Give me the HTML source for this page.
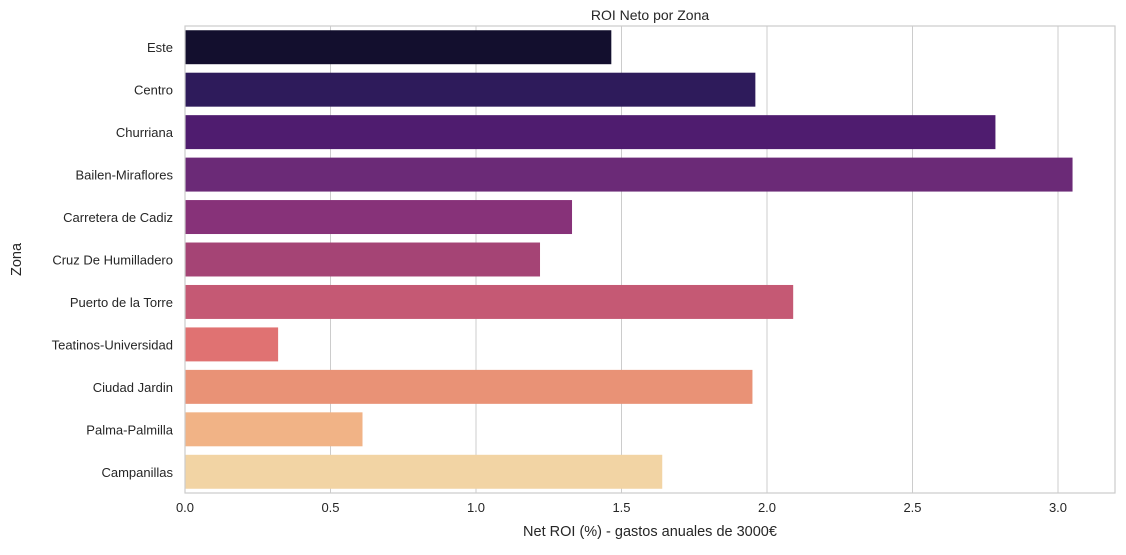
<!DOCTYPE html>
<html><head><meta charset="utf-8"><style>
body{margin:0;background:#fff;font-family:"Liberation Sans","DejaVu Sans",sans-serif;}
svg text{font-family:"Liberation Sans","DejaVu Sans",sans-serif;fill:#262626;}
</style></head><body>
<svg id="chart" width="1126" height="550" xmlns="http://www.w3.org/2000/svg"></svg>
<script>
const categories=["Este","Centro","Churriana","Bailen-Miraflores","Carretera de Cadiz","Cruz De Humilladero","Puerto de la Torre","Teatinos-Universidad","Ciudad Jardin","Palma-Palmilla","Campanillas"];
const values=[1.465,1.96,2.785,3.05,1.33,1.22,2.09,0.32,1.95,0.61,1.64];
const colors=["#130f2e","#2e1b5b","#4f1c6f","#6b2a77","#873279","#a54475","#c55974","#e07272","#e99276","#f1b386","#f2d4a4"];
const xTicks=[0,0.5,1.0,1.5,2.0,2.5,3.0];
const xTickLabels=["0.0","0.5","1.0","1.5","2.0","2.5","3.0"];
const NS="http://www.w3.org/2000/svg";
const svg=document.getElementById('chart');
const L=185,R=1115,T=26,B=493;
const x=v=>L+v*291.0;
const band=(B-T)/categories.length;
const y=i=>T+i*band;
function mk(t,a){const e=document.createElementNS(NS,t);for(const k in a)e.setAttribute(k,a[k]);svg.appendChild(e);return e;}
xTicks.forEach((t,i)=>{
 const g=mk('line',{x1:x(t),x2:x(t),y1:T,y2:B,stroke:'#cccccc','stroke-width':1});
 
 
 const tx=mk('text',{x:x(t),y:B+19,'text-anchor':'middle','font-size':13});
 tx.textContent=xTickLabels[i];
 
 
});
categories.forEach((c,i)=>{
 const r=mk('rect',{x:L,y:y(i)+band*0.1,width:x(values[i])-L,height:band*0.8,fill:colors[i]});
 
 
 const tx=mk('text',{x:L-12,y:y(i)+band/2+5,'text-anchor':'end','font-size':13});
 tx.textContent=c;
 
 
});
const fr=mk('rect',{x:L,y:T,width:R-L,height:B-T,fill:'none',stroke:'#cccccc','stroke-width':1.2});


const ti=mk('text',{x:(L+R)/2,y:20,'text-anchor':'middle','font-size':14});
ti.textContent='ROI Neto por Zona';


const xl=mk('text',{x:(L+R)/2,y:536,'text-anchor':'middle','font-size':14.5});
xl.textContent='Net ROI (%) - gastos anuales de 3000€';


const yl=mk('text',{x:21,y:(T+B)/2,'text-anchor':'middle','font-size':14.5,transform:'rotate(-90 21 '+((T+B)/2)+')'});
yl.textContent='Zona';


</script>
</body></html>
